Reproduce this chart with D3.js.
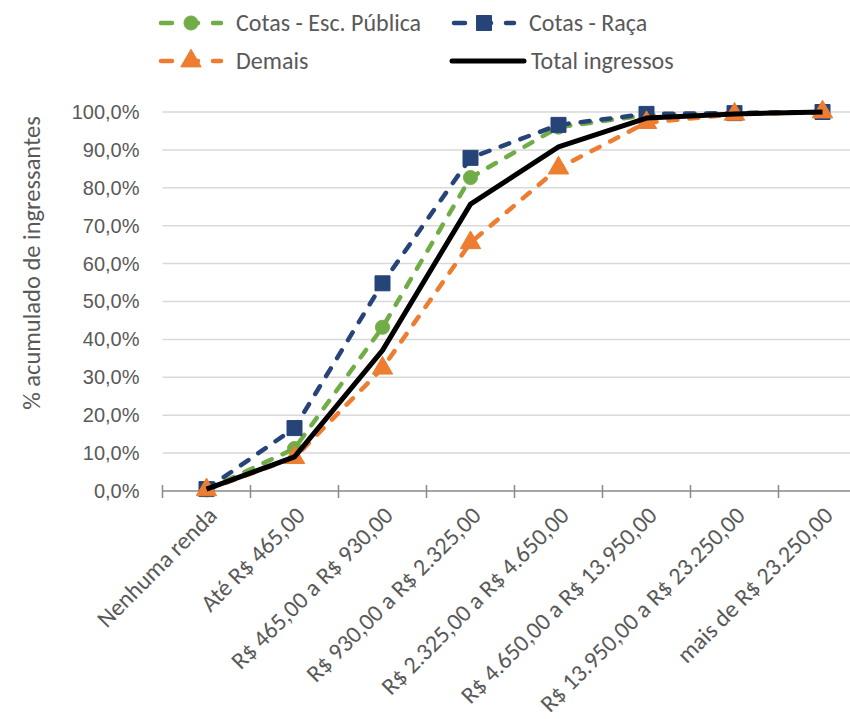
<!DOCTYPE html>
<html>
<head>
<meta charset="utf-8">
<script src="https://cdn.jsdelivr.net/npm/d3@7"></script>
<style>
  html, body { margin: 0; padding: 0; background: #fff; }
  svg { display: block; font-family: Carlito, Lato, "Noto Sans", sans-serif; }
</style>
</head>
<body>
<svg id="chart" width="850" height="719"></svg>
<script>
// Income brackets (categories on the x axis)
const categories = [
  "Nenhuma renda",
  "Até R$ 465,00",
  "R$ 465,00 a R$ 930,00",
  "R$ 930,00 a R$ 2.325,00",
  "R$ 2.325,00 a R$ 4.650,00",
  "R$ 4.650,00 a R$ 13.950,00",
  "R$ 13.950,00 a R$ 23.250,00",
  "mais de R$ 23.250,00"
];

// Cumulative share of entrants (%) per bracket
const escPublica = [0.3, 11.2, 43.2, 82.7, 96.0, 99.2, 99.7, 100.0];
const raca       = [0.5, 16.6, 54.8, 87.9, 96.6, 99.5, 99.7, 100.0];
const demais     = [0.3, 8.8, 32.4, 65.5, 85.2, 97.2, 99.4, 100.0];
const total      = [0.5, 9.0, 37.1, 75.7, 90.8, 98.4, 99.5, 100.0];

const yTicks = [0, 10, 20, 30, 40, 50, 60, 70, 80, 90, 100];
const yTitle = "% acumulado de ingressantes";

const series = [
  { name: "Cotas - Esc. Pública", values: escPublica, color: "#70AD47", marker: "circle", dashed: true },
  { name: "Cotas - Raça",         values: raca,       color: "#264478", marker: "square", dashed: true },
  { name: "Demais",               values: demais,     color: "#ED7D31", marker: "triangle", dashed: true },
  { name: "Total ingressos",      values: total,      color: "#000000", marker: null, dashed: false }
];

const textColor = "#595959";
const svg = d3.select("#chart");

const plot = { left: 162.5, right: 866.5, top: 112, bottom: 491 };

const x = d3.scaleBand().domain(categories).range([plot.left, plot.right]);
const y = d3.scaleLinear().domain([0, 100]).range([plot.bottom, plot.top]);
const fmt = v => d3.format(".1f")(v).replace(".", ",") + "%";

// Horizontal gridlines
svg.append("g")
  .selectAll("line")
  .data(yTicks.filter(t => t > 0))
  .join("line")
  .attr("x1", plot.left).attr("x2", 850)
  .attr("y1", d => y(d)).attr("y2", d => y(d))
  .attr("stroke", "#D9D9D9").attr("stroke-width", 1.5);

// Y axis labels (no axis line)
const yAxis = svg.append("g")
  .attr("transform", `translate(${plot.left},0)`)
  .call(d3.axisLeft(y).tickValues(yTicks).tickFormat(fmt).tickSize(0).tickPadding(23));
yAxis.select(".domain").remove();
yAxis.selectAll("text")
  .attr("fill", textColor)
  .style("font-size", "20px");

// X axis with crossing tick marks at band edges
const xAxisG = svg.append("g");
xAxisG.append("line")
  .attr("x1", plot.left).attr("x2", 850)
  .attr("y1", plot.bottom).attr("y2", plot.bottom)
  .attr("stroke", "#898989").attr("stroke-width", 1.5);
const edges = categories.map(c => x(c)).concat([x(categories[categories.length - 1]) + x.bandwidth()]);
xAxisG.selectAll("line.tick")
  .data(edges)
  .join("line")
  .attr("class", "tick")
  .attr("x1", d => d).attr("x2", d => d)
  .attr("y1", plot.bottom - 6).attr("y2", plot.bottom + 7)
  .attr("stroke", "#898989").attr("stroke-width", 1.5);

xAxisG.selectAll("text")
  .data(categories)
  .join("text")
  .attr("transform", d => `translate(${x(d) + x.bandwidth() / 2 + 6},${plot.bottom + 20}) rotate(-45)`)
  .attr("text-anchor", "end")
  .attr("dy", "0.35em")
  .attr("fill", textColor)
  .style("font-size", "24px")
  .text(d => d);

// Y axis title
svg.append("text")
  .attr("transform", `translate(40,263) rotate(-90)`)
  .attr("text-anchor", "middle")
  .attr("fill", textColor)
  .style("font-size", "24.5px")
  .text(yTitle);

// Marker shapes
const markerPath = {
  circle: d3.symbol(d3.symbolCircle, 155)(),
  square: d3.symbol(d3.symbolSquare, 225)(),
  triangle: d3.symbol(d3.symbolTriangle, 180)()
};

const cx = (i) => x(categories[i]) + x.bandwidth() / 2;
const line = d3.line().x((d, i) => cx(i)).y(d => y(d));

function drawSeries(g, s) {
  g.append("path")
    .datum(s.values)
    .attr("d", line)
    .attr("fill", "none")
    .attr("stroke", s.color)
    .attr("stroke-width", s.dashed ? 4.5 : 5)
    .attr("stroke-linecap", s.dashed ? "round" : "butt")
    .attr("stroke-linejoin", "round")
    .attr("stroke-dasharray", s.dashed ? "9,12" : null);
  if (s.marker) {
    g.selectAll("path.mk")
      .data(s.values)
      .join("path")
      .attr("class", "mk")
      .attr("d", markerPath[s.marker])
      .attr("transform", (d, i) => `translate(${cx(i)},${y(d)})`)
      .attr("fill", s.color)
      .attr("stroke", s.color)
      .attr("stroke-width", 1);
  }
}

// Draw order: green, blue, orange, then the solid total line on top
const marks = svg.append("g");
series.forEach(s => drawSeries(marks.append("g"), s));

// Legend
const legendItems = [
  { s: series[0], lx: 159, ty: 23 },
  { s: series[1], lx: 452, ty: 23 },
  { s: series[2], lx: 159, ty: 61 },
  { s: series[3], lx: 452, ty: 61 }
];
const legend = svg.append("g");
legendItems.forEach(({ s, lx, ty }) => {
  const g = legend.append("g");
  const w = s.dashed ? 64 : 72;
  if (s.dashed) {
    g.append("line")
      .attr("x1", lx + 2).attr("x2", lx + w - 2)
      .attr("y1", ty).attr("y2", ty)
      .attr("stroke", s.color).attr("stroke-width", 4.5)
      .attr("stroke-linecap", "round")
      .attr("stroke-dasharray", "11,15");
    g.append("path")
      .attr("d", markerPath[s.marker])
      .attr("transform", `translate(${lx + w / 2},${ty})`)
      .attr("fill", s.color).attr("stroke", s.color);
  } else {
    g.append("line")
      .attr("x1", lx).attr("x2", lx + w)
      .attr("y1", ty).attr("y2", ty)
      .attr("stroke", s.color).attr("stroke-width", 5)
      .attr("stroke-linecap", "round");
  }
  g.append("text")
    .attr("x", lx + (s.dashed ? 77 : 79))
    .attr("y", ty)
    .attr("dy", "0.35em")
    .attr("fill", textColor)
    .style("font-size", "24px")
    .text(s.name);
});
</script>
</body>
</html>
